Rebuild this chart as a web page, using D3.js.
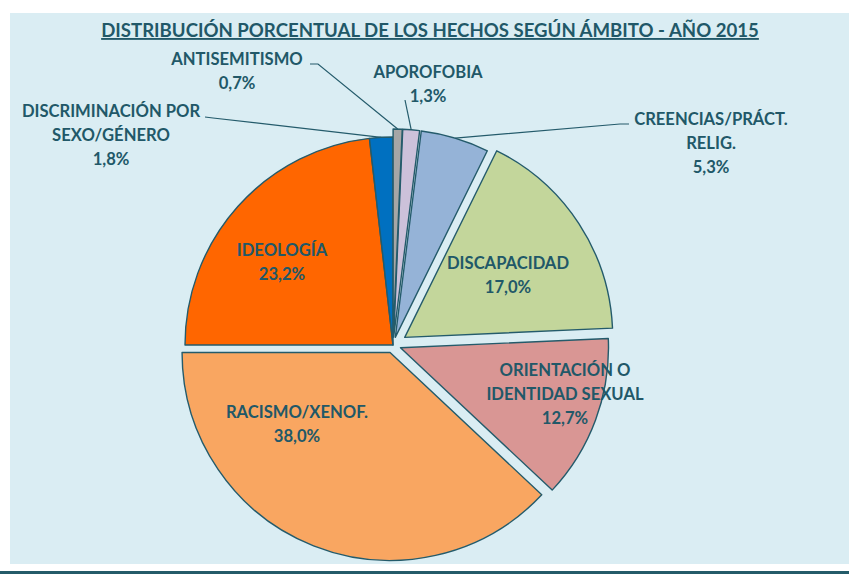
<!DOCTYPE html>
<html>
<head>
<meta charset="utf-8">
<script src="https://cdn.jsdelivr.net/npm/d3@7"></script>
<style>
  body { margin: 0; background: #fff; }
  svg { display: block; }
</style>
</head>
<body>
<div id="chart"></div>
<script>
// data (percent of incidents, clockwise from the top)
var categories = ["APOROFOBIA", "CREENCIAS/PRÁCT. RELIG.", "DISCAPACIDAD",
  "ORIENTACIÓN O IDENTIDAD SEXUAL", "RACISMO/XENOF.", "IDEOLOGÍA",
  "DISCRIMINACIÓN POR SEXO/GÉNERO", "ANTISEMITISMO"];
var values = [1.3, 5.3, 17.0, 12.7, 38.0, 23.2, 1.8, 0.7];
var valueLabels = ["1,3%", "5,3%", "17,0%", "12,7%", "38,0%", "23,2%", "1,8%", "0,7%"];
var nameLines = [["APOROFOBIA"], ["CREENCIAS/PRÁCT.", "RELIG."], ["DISCAPACIDAD"],
  ["ORIENTACIÓN O", "IDENTIDAD SEXUAL"], ["RACISMO/XENOF."], ["IDEOLOGÍA"],
  ["DISCRIMINACIÓN POR", "SEXO/GÉNERO"], ["ANTISEMITISMO"]];
var title = "DISTRIBUCIÓN PORCENTUAL DE LOS HECHOS SEGÚN ÁMBITO - AÑO 2015";

// styling / layout
var colors = ["#ccc1da", "#95b3d7", "#c3d69b", "#d99694", "#f9a661", "#ff6600", "#0070c0", "#a6a6a6"];
var explode = [8, 8, 14, 8, 8, 0, 0, 8];
// label anchor (centre x, first line y) and optional leader elbow
var labelPos = [
  { x: 428, y: 78, elbow: [405, 100], from: [405, 100] },
  { x: 711, y: 125, elbow: [620, 124], from: [629, 124] },
  { x: 508, y: 269 },
  { x: 565, y: 376 },
  { x: 297, y: 418 },
  { x: 282, y: 256 },
  { x: 111, y: 117, elbow: [213, 118], from: [205, 117] },
  { x: 237, y: 65, elbow: [318, 64], from: [310, 64] }
];

var width = 849, height = 574;
var cx = 393, cy = 345, radius = 208;
var rot = 2.5 * Math.PI / 180;
var textColor = "#215868";
var font = "Lato, 'Open Sans', sans-serif";

var svg = d3.select("#chart").append("svg")
  .attr("width", width)
  .attr("height", height);

// panel background and bottom rule
svg.append("rect")
  .attr("x", 10).attr("y", 13)
  .attr("width", width - 10).attr("height", 551)
  .attr("fill", "#daedf3");
svg.append("rect")
  .attr("x", 0).attr("y", 571)
  .attr("width", width).attr("height", 3)
  .attr("fill", "#245b69");

svg.append("text")
  .attr("x", 430).attr("y", 37)
  .attr("text-anchor", "middle")
  .attr("font-family", font)
  .attr("font-weight", "bold")
  .attr("font-size", "18.6px")
  .attr("fill", textColor)
  .attr("text-decoration", "underline")
  .text(title);

var pie = d3.pie()
  .sort(null)
  .startAngle(rot)
  .endAngle(rot + 2 * Math.PI);

var arc = d3.arc().innerRadius(0).outerRadius(radius);
var arcs = pie(values);

function offset(d, i) {
  var a = (d.startAngle + d.endAngle) / 2;
  return [Math.sin(a) * explode[i], -Math.cos(a) * explode[i]];
}

var g = svg.append("g")
  .attr("transform", `translate(${cx}, ${cy})`);

g.selectAll("path")
  .data(arcs)
  .enter()
  .append("path")
  .attr("d", arc)
  .attr("transform", (d, i) => `translate(${offset(d, i)})`)
  .attr("fill", (d, i) => colors[i])
  .attr("stroke", "#245b6b")
  .attr("stroke-width", 1.4)
  .attr("stroke-linejoin", "round");

// leader lines for the outside labels
arcs.forEach(function(d, i) {
  var p = labelPos[i];
  if (!p.elbow) return;
  var a = (d.startAngle + d.endAngle) / 2;
  var r = radius + explode[i];
  var end = [cx + Math.sin(a) * r, cy - Math.cos(a) * r];
  svg.append("polyline")
    .attr("points", [p.from, p.elbow, end].map(q => q.join(",")).join(" "))
    .attr("fill", "none")
    .attr("stroke", "#245b6b")
    .attr("stroke-width", 1.2);
});

// labels
arcs.forEach(function(d, i) {
  var p = labelPos[i];
  var lines = nameLines[i].concat([valueLabels[i]]);
  var t = svg.append("text")
    .attr("text-anchor", "middle")
    .attr("font-family", font)
    .attr("font-weight", "bold")
    .attr("font-size", "16.6px")
    .attr("fill", textColor);
  lines.forEach(function(line, k) {
    t.append("tspan")
      .attr("x", p.x)
      .attr("y", p.y + k * 24)
      .text(line);
  });
});
</script>
</body>
</html>
